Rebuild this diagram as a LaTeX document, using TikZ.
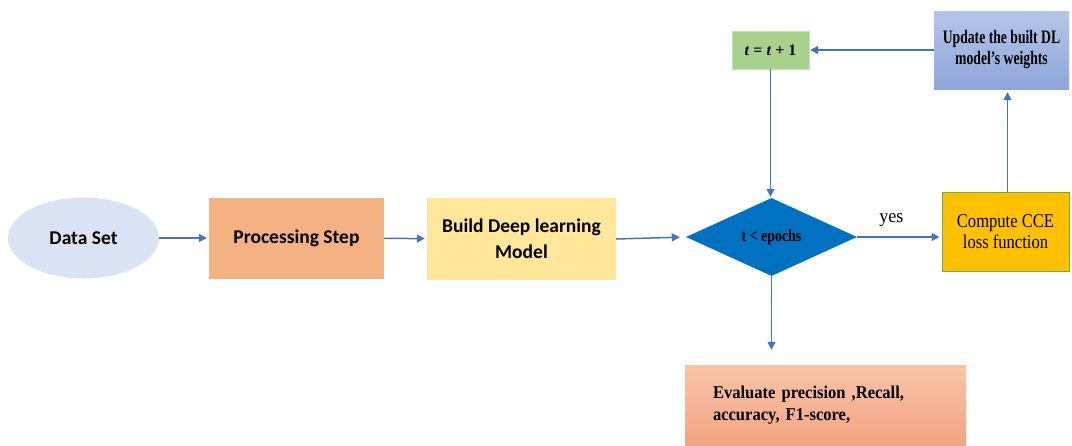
\documentclass[tikz,border=0pt]{standalone}
\usepackage{fontspec}
\setmainfont{Liberation Serif}
\newfontfamily\calibri{Carlito}
\usepackage{xcolor}
\usetikzlibrary{shapes.geometric,arrows.meta}
\definecolor{flowblue}{HTML}{4472C4}
\definecolor{datafill}{HTML}{DAE3F3}
\definecolor{procfill}{HTML}{F4B183}
\definecolor{buildfill}{HTML}{FFE699}
\definecolor{checkfill}{HTML}{0070C0}
\definecolor{ccefill}{HTML}{FFC000}
\definecolor{cceline}{HTML}{70AD47}
\definecolor{incfill}{HTML}{A9D18E}
\definecolor{incline}{HTML}{C5E0B4}
\definecolor{updtop}{HTML}{B4C5E8}
\definecolor{updbot}{HTML}{8EA6DA}
\definecolor{evaltop}{HTML}{F8C4AA}
\definecolor{evalbot}{HTML}{F4A482}
\newcommand{\narrow}[3]{\fontsize{#1}{#2}\selectfont\addfontfeature{FakeStretch=#3}}

\begin{document}
\begin{tikzpicture}[x=1pt,y=-1pt,
	flow/.style={draw=flowblue,line width=1.5pt,-{Triangle[length=8pt,width=8pt]}},
	sansbox/.style={font=\calibri\bfseries\fontsize{19.5}{26}\selectfont,align=center,inner sep=0pt},
	serifbox/.style={align=center,inner sep=0pt}]
	\useasboundingbox (0,0) rectangle (1072,445);
	\node[ellipse,fill=datafill,minimum width=151pt,minimum height=81pt,sansbox] (data) at (83.5,238) {Data Set};
	\node[rectangle,fill=procfill,minimum width=175pt,minimum height=81pt,sansbox] (proc) at (296.5,238) {Processing Step};
	\node[rectangle,fill=buildfill,minimum width=189pt,minimum height=82pt,sansbox] (build) at (521.5,239) {Build Deep learning\\Model};
	\node[diamond,fill=checkfill,minimum width=171pt,minimum height=78pt,serifbox,font=\bfseries\narrow{17}{19}{0.82}] (check) at (771.5,237) {t < epochs};
	\node[rectangle,fill=ccefill,draw=cceline,line width=1pt,minimum width=127pt,minimum height=79pt,serifbox,font=\narrow{19.5}{21}{0.85}] (cce) at (1005.5,231.5) {Compute CCE\\loss function};
	\node[rectangle,top color=updtop,bottom color=updbot,minimum width=135pt,minimum height=78pt,serifbox,font=\bfseries\narrow{19}{21}{0.72}] (update) at (1001.5,50) {Update the built DL\\model’s weights};
	\node[rectangle,fill=incfill,draw=incline,minimum width=77pt,minimum height=38pt,serifbox,font=\bfseries\fontsize{16}{18}\selectfont] (tinc) at (770.5,50) {\textit{t} = \textit{t} + 1};
	\node[rectangle,top color=evaltop,bottom color=evalbot,minimum width=281pt,minimum height=80pt,text width=225pt,inner xsep=28pt,inner ysep=0pt,align=left,font=\bfseries\narrow{18}{22}{0.92}] (eval) at (825.5,405) {Evaluate precision ,Recall,\\accuracy, F1-score,};
	\draw[flow,shorten >=2pt] (data) -- (proc);
	\draw[flow,shorten >=2pt] (proc) -- (build);
	\draw[flow,shorten >=6pt] (build.east) -- (check.west);
	\draw[flow,shorten >=2pt] (check.east) -- (check.east -| cce.west) node[midway,above=6pt,font=\narrow{19}{21}{0.95},xshift=-8pt] {yes};
	\draw[flow,shorten >=3pt] ([xshift=2pt]cce.north) -- ([xshift=2pt]cce.north |- update.south);
	\draw[flow,shorten >=1pt] (update.west) -- (tinc.east);
	\draw[flow,shorten >=1pt] (tinc.south) -- (tinc.south |- check.north);
	\draw[flow,shorten >=15pt] (check.south) -- (check.south |- eval.north);
\end{tikzpicture}
\end{document}
